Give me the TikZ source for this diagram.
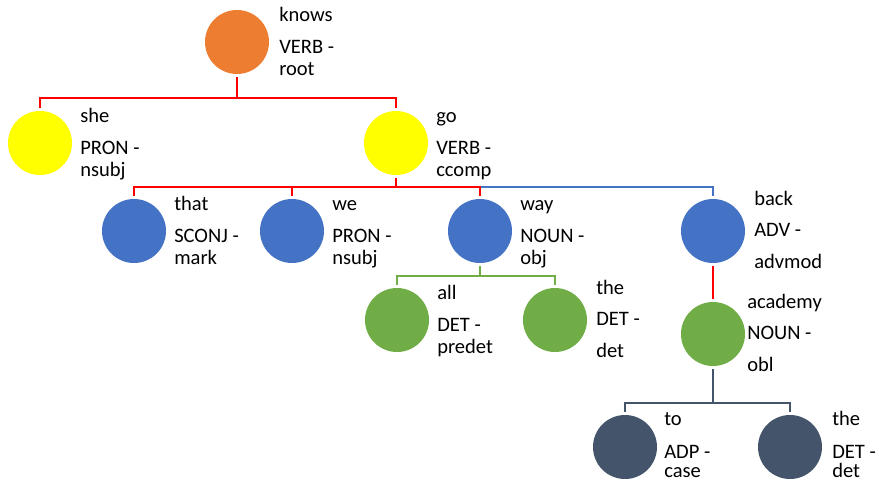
\documentclass[tikz,border=0pt]{standalone}
\usepackage{fontspec}
\setmainfont{Carlito}
\usetikzlibrary{calc}
\definecolor{cOrange}{HTML}{ED7D31}
\definecolor{cYellow}{HTML}{FFFF00}
\definecolor{cBlue}{HTML}{4472C4}
\definecolor{cGreen}{HTML}{70AD47}
\definecolor{cSlate}{HTML}{44546A}
\definecolor{cRed}{HTML}{FF0000}
\newcommand\labA[5]{%
  \node[lbl] (#1-w) at ($(#1)+(#2,-21)$) {#3};
  \node[lbl] (#1-p) at ($(#1)+(#2,11)$) {#4};
  \node[lbl] (#1-d) at ($(#1)+(#2,33)$) {#5};}
\newcommand\labB[5]{%
  \node[lbl] (#1-w) at ($(#1)+(#2,-26)$) {#3};
  \node[lbl] (#1-p) at ($(#1)+(#2,5)$) {#4};
  \node[lbl] (#1-d) at ($(#1)+(#2,37)$) {#5};}
\newcommand\labC[5]{%
  \node[lbl] (#1-w) at ($(#1)+(#2,-22)$) {#3};
  \node[lbl] (#1-p) at ($(#1)+(#2,11)$) {#4};
  \node[lbl] (#1-d) at ($(#1)+(#2,30)$) {#5};}
\begin{document}
\begin{tikzpicture}[x=0.75pt,y=-0.75pt,
  word/.style={circle, minimum size=48pt, inner sep=0pt, outer sep=2.25pt},
  lbl/.style={anchor=base west, inner sep=0pt, font=\fontsize{15.4}{18}\selectfont},
  conn/.style={line width=1.5pt}]
\useasboundingbox (0,0) rectangle (879,483);
% nodes
\node[word, fill=cOrange] (knows) at (237,42) {};
\node[word, fill=cYellow] (she) at (40,143) {};
\node[word, fill=cYellow] (go) at (396,143) {};
\node[word, fill=cBlue] (that) at (134,231) {};
\node[word, fill=cBlue] (we) at (292,231) {};
\node[word, fill=cBlue] (way) at (480,231) {};
\node[word, fill=cBlue] (back) at (713,231) {};
\node[word, fill=cGreen] (all) at (397,320) {};
\node[word, fill=cGreen] (the1) at (555,320) {};
\node[word, fill=cGreen] (academy) at (713,334) {};
\node[word, fill=cSlate] (to) at (625,447) {};
\node[word, fill=cSlate] (the2) at (790,447) {};
% bar heights
\coordinate (b1) at (0,98);
\coordinate (b2) at (0,187);
\coordinate (b3) at (0,276);
\coordinate (b4) at (0,403);
% connectors
\draw[conn,cRed] (knows.south) -- (knows.south |- b1) -| (she.north);
\draw[conn,cRed] (knows.south) -- (knows.south |- b1) -| (go.north);
\draw[conn,cBlue] (go.south) -- (go.south |- b2) -| (back.north);
\draw[conn,cRed] (go.south) -- (go.south |- b2) -| (that.north);
\draw[conn,cRed] (go.south) -- (go.south |- b2) -| (we.north);
\draw[conn,cRed] (go.south) -- (go.south |- b2) -| (way.north);
\draw[conn,cGreen] (way.south) -- (way.south |- b3) -| (all.north);
\draw[conn,cGreen] (way.south) -- (way.south |- b3) -| (the1.north);
\draw[conn,cRed] (back.south) -- (academy.north);
\draw[conn,cSlate] (academy.south) -- (academy.south |- b4) -| (to.north);
\draw[conn,cSlate] (academy.south) -- (academy.south |- b4) -| (the2.north);
% labels
\labA{knows}{42}{knows}{VERB -}{root}
\labA{she}{40}{she}{PRON -}{nsubj}
\labA{go}{40}{go}{VERB -}{ccomp}
\labA{that}{40}{that}{SCONJ -}{mark}
\labA{we}{40}{we}{PRON -}{nsubj}
\labA{way}{40}{way}{NOUN -}{obj}
\labB{back}{41}{back}{ADV -}{advmod}
\labA{all}{40}{all}{DET -}{predet}
\labB{the1}{41}{the}{DET -}{det}
\labB{academy}{34}{academy}{NOUN -}{obl}
\labC{to}{39}{to}{ADP -}{case}
\labC{the2}{42}{the}{DET -}{det}
\end{tikzpicture}
\end{document}
